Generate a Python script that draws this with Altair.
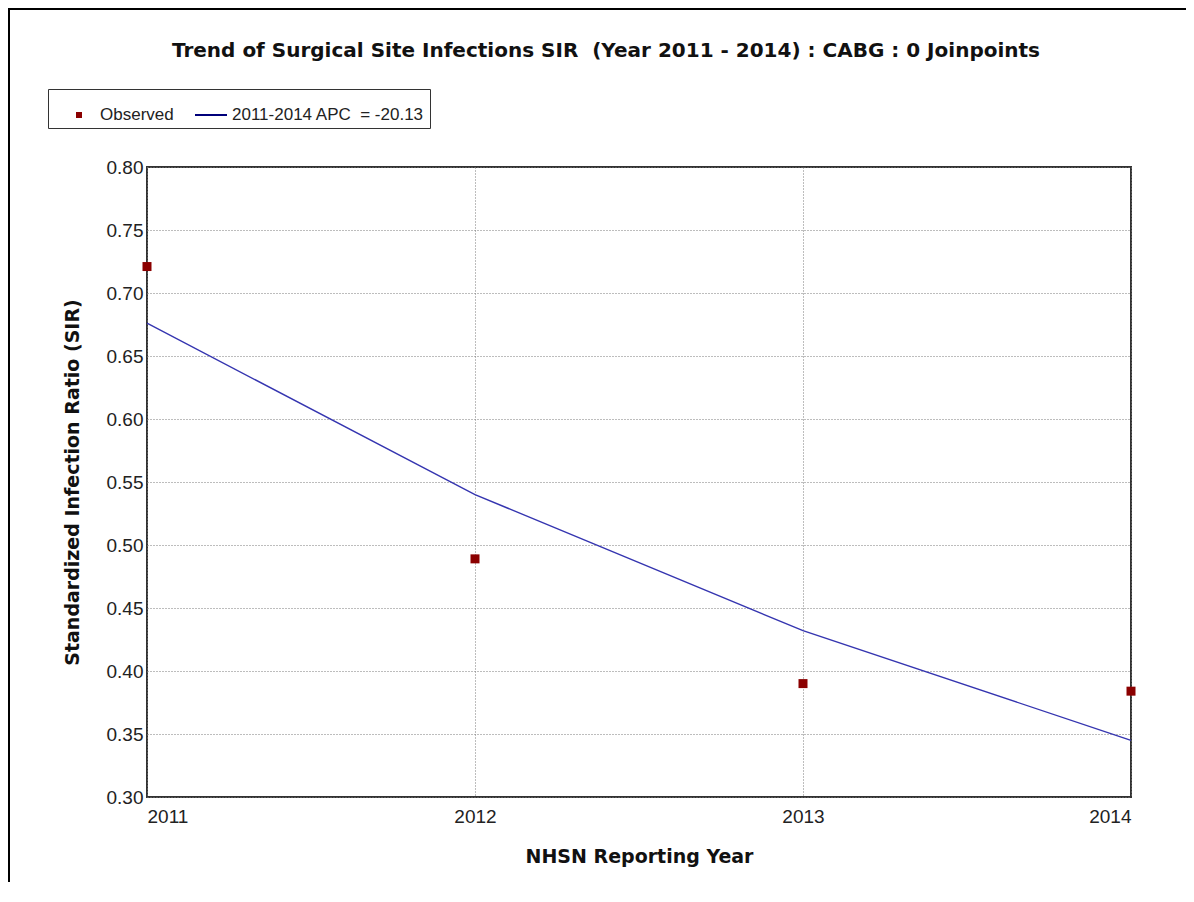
import altair as alt
import pandas as pd

# ---- data ----
years = [2011, 2012, 2013, 2014]
observed = [0.721, 0.489, 0.390, 0.384]
fitted = [0.676, 0.540, 0.432, 0.345]
series_names = ["Observed", "2011-2014 APC\u00a0 = -20.13"]
y_ticks = [0.30, 0.35, 0.40, 0.45, 0.50, 0.55, 0.60, 0.65, 0.70, 0.75, 0.80]

obs_df = pd.DataFrame({"year": years, "sir": observed, "series": series_names[0]})
fit_df = pd.DataFrame({"year": years, "sir": fitted})

SQUARE = "M-0.15,-0.15L0.15,-0.15L0.15,0.15L-0.15,0.15Z"
LINE = "M-0.8,-0.05L0.8,-0.05L0.8,0.05L-0.8,0.05Z"

x_enc = alt.X("year:Q",
              scale=alt.Scale(domain=[2011, 2014], nice=False, zero=False),
              axis=alt.Axis(values=years, format="d", title="NHSN Reporting Year",
                            titleX=492, titleY=59, titleBaseline="middle",
                            labelPadding=10))
y_enc = alt.Y("sir:Q",
              scale=alt.Scale(domain=[0.30, 0.80], nice=False, zero=False),
              axis=alt.Axis(values=y_ticks, format=".2f",
                            title="Standardized Infection Ratio (SIR)",
                            titleX=-75, titleY=315, titleBaseline="middle",
                            titleAlign="center", titleAngle=270,
                            labelPadding=4))

line = alt.Chart(fit_df).mark_line(color="#3535b0", strokeWidth=1.4).encode(
    x=x_enc, y=y_enc)


def make_legend():
    return alt.Legend(title=None, orient="none", legendX=-99, legendY=-78,
                      direction="horizontal", symbolSize=1600, symbolOffset=5,
                      labelFont="Liberation Sans", labelFontSize=17,
                      labelColor="#222222", labelOffset=0, labelLimit=400,
                      columnPadding=11, padding=5,
                      strokeColor="#333333", fillColor="white")


points = alt.Chart(obs_df).mark_point(filled=True, opacity=1, size=3600).encode(
    x="year:Q",
    y="sir:Q",
    color=alt.Color("series:N",
                    scale=alt.Scale(domain=series_names, range=["#8B0000", "#00007a"]),
                    legend=make_legend()),
    shape=alt.Shape("series:N",
                    scale=alt.Scale(domain=series_names, range=[SQUARE, LINE]),
                    legend=make_legend()),
)

frame_left = alt.Chart(alt.Data(values=[{}])).mark_rule(color="black", strokeWidth=2).encode(
    x=alt.value(-138), y=alt.value(-158), y2=alt.value(740))
frame_top = alt.Chart(alt.Data(values=[{}])).mark_rule(color="black", strokeWidth=2).encode(
    x=alt.value(-139), x2=alt.value(1060), y=alt.value(-158))

chart = alt.layer(line, points, frame_left, frame_top).properties(
    width=984, height=630,
    padding={"left": 139, "top": 159, "right": 55, "bottom": 85},
    autosize=alt.AutoSizeParams(type="none"),
    background="white",
    title=alt.TitleParams(
        "Trend of Surgical Site Infections SIR\u00a0 (Year 2011 - 2014) : CABG : 0 Joinpoints",
        font="DejaVu Sans", fontSize=20, fontWeight="bold", color="#111111",
        anchor="middle", dx=-33, offset=-53),
).configure_view(
    stroke="#333333", strokeWidth=2
).configure_axis(
    domain=False, ticks=False,
    grid=True, gridColor="#7a7a7a", gridDash=[1, 2], gridWidth=1,
    labelFont="Liberation Sans", labelFontSize=19, labelColor="#222222",
    titleFont="DejaVu Sans", titleFontSize=19, titleFontWeight="bold", titleColor="#111111",
)

chart.save("out.html", embed_options={"renderer": "svg", "actions": False})
